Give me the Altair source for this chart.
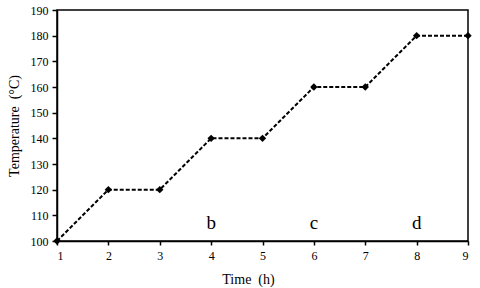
import altair as alt
import pandas as pd

time_h = [1, 2, 3, 4, 5, 6, 7, 8, 9]
temperature = [100, 120, 120, 140, 140, 160, 160, 180, 180]

label_x = [4, 6, 8]
label_y = [107, 107, 107]
label_text = ["b", "c", "d"]

df = pd.DataFrame({"t": time_h, "T": temperature})
lab = pd.DataFrame({"t": label_x, "T": label_y, "s": label_text})

FONT = "Liberation Serif"

x = alt.X("t:Q", scale=alt.Scale(domain=[1, 9], nice=False),
          axis=alt.Axis(title="Time\u00a0\u00a0(h)", values=time_h, format="d",
                        grid=False, tickSize=4, labelPadding=5, labelOverlap=False,
                        titleX=191, titlePadding=11))
y = alt.Y("T:Q", scale=alt.Scale(domain=[100, 190], nice=False, zero=False),
          axis=alt.Axis(title="Temperature\u00a0\u00a0(°C)", values=list(range(100, 191, 10)),
                        grid=False, tickSize=5, labelPadding=4, labelOverlap=False,
                        titlePadding=9))

line = alt.Chart(df).mark_line(color="black", strokeDash=[4, 2], strokeWidth=2).encode(x=x, y=y)
pts = alt.Chart(df).mark_point(shape="diamond", filled=True, color="black", size=55, opacity=1).encode(x=x, y=y)
txt = alt.Chart(lab).mark_text(font=FONT, fontSize=19, baseline="middle", color="black").encode(
    x=x, y=y, text="s:N")

chart = alt.layer(line, pts, txt).properties(
    width=411, height=231,
    background="white",
    autosize=alt.AutoSizeParams(type="none"),
    padding={"left": 57, "top": 10, "right": 12, "bottom": 47},
).configure_view(stroke="black", strokeWidth=1.5).configure_axis(
    domainColor="black", domainWidth=1.5, tickColor="black", tickWidth=1.5,
    labelFont=FONT, labelFontSize=12, labelColor="black",
    titleFont=FONT, titleFontSize=14, titleFontWeight="normal", titleColor="black",
)

chart.save("out.html", embed_options={"renderer": "svg", "actions": False})
